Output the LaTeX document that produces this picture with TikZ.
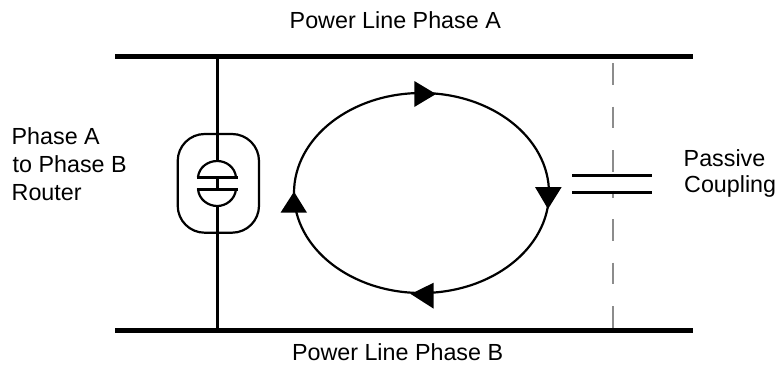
\documentclass[tikz,border=0pt]{standalone}
\usepackage{fontspec}
\setmainfont{Liberation Sans}
\tikzset{
  x=1pt,y=-1pt,
  bus/.style={line width=4.4pt},
  wire/.style={line width=2.6pt},
  loopline/.style={line width=2.2pt},
  plate/.style={line width=2.8pt},
  gap/.style={line width=2pt,draw=black!45},
  head/.style={fill=black,draw=none},
  lab/.style={font=\fontsize{23.3}{28}\selectfont,inner sep=0pt,align=left}
}
\begin{document}
\begin{tikzpicture}
\useasboundingbox (0,0) rectangle (778,364);
\coordinate (TL) at (115,56.5); \coordinate (TR) at (693,56.5);
\coordinate (BL) at (115,330.5); \coordinate (BR) at (693,330.5);
\coordinate (RT) at (217.3,56.5); \coordinate (RB) at (217.3,330.5);
\coordinate (UP) at (217.3,161); \coordinate (DN) at (217.3,206);
\coordinate (P1) at (217.3,177.3); \coordinate (P2) at (217.3,189.3);
% dashed passive coupling line
\foreach \a/\b in {63/85,106.5/128,150/172,190.5/197.5,219/241,262.5/284,306/328}
  \draw[gap] (612.5,\a) -- (612.5,\b);
\draw[bus] (TL) -- (TR);
\draw[bus] (BL) -- (BR);
\draw[wire] (RT) -- (UP);
\draw[wire] (DN) -- (RB);
\draw[wire] (P1) -- (P2);
% router
\draw[loopline,rounded corners=27pt] (177.7,134) rectangle (259,232.7);
\draw[loopline] (198,177.3) .. controls (199,167) and (208,161) .. (UP) .. controls (226,161) and (235,167) .. (236,177.3);
\draw[loopline] (198,189.3) .. controls (199,199.5) and (208,206) .. (DN) .. controls (226,206) and (235,199.5) .. (236,189.3);
\draw[plate] (196.5,177.3) -- (237.5,177.3);
\draw[plate] (196.5,189.3) -- (237.5,189.3);
% loop
\draw[loopline] (421.5,193) ellipse [x radius=127.5,y radius=100];
\fill[head] (414.3,81) -- (436,94) -- (414.3,107) -- cycle;
\fill[head] (535,187) -- (561.7,187) -- (548,209) -- cycle;
\fill[head] (433.7,282.7) -- (433.7,308.7) -- (410.7,294) -- cycle;
\fill[head] (280.5,212.7) -- (307,212.7) -- (294,191.7) -- cycle;
% capacitor
\draw[plate] (572,175.3) -- (652,175.3);
\draw[plate] (572,192.3) -- (652,192.3);
% labels
\node[lab,anchor=base] (a) at (395.3,28) {Power Line Phase A};
\node[lab,anchor=base] (b) at (397.6,360) {Power Line Phase B};
\node[lab,anchor=base west] (r1) at (11.5,144.3) {Phase A};
\node[lab,anchor=base west] (r2) at (12.5,172.8) {to Phase B};
\node[lab,anchor=base west] (r3) at (11.5,200.7) {Router};
\node[lab,anchor=base west] (c1) at (683.5,166.7) {Passive};
\node[lab,anchor=base west] (c2) at (684,192.3) {Coupling};
\end{tikzpicture}
\end{document}
